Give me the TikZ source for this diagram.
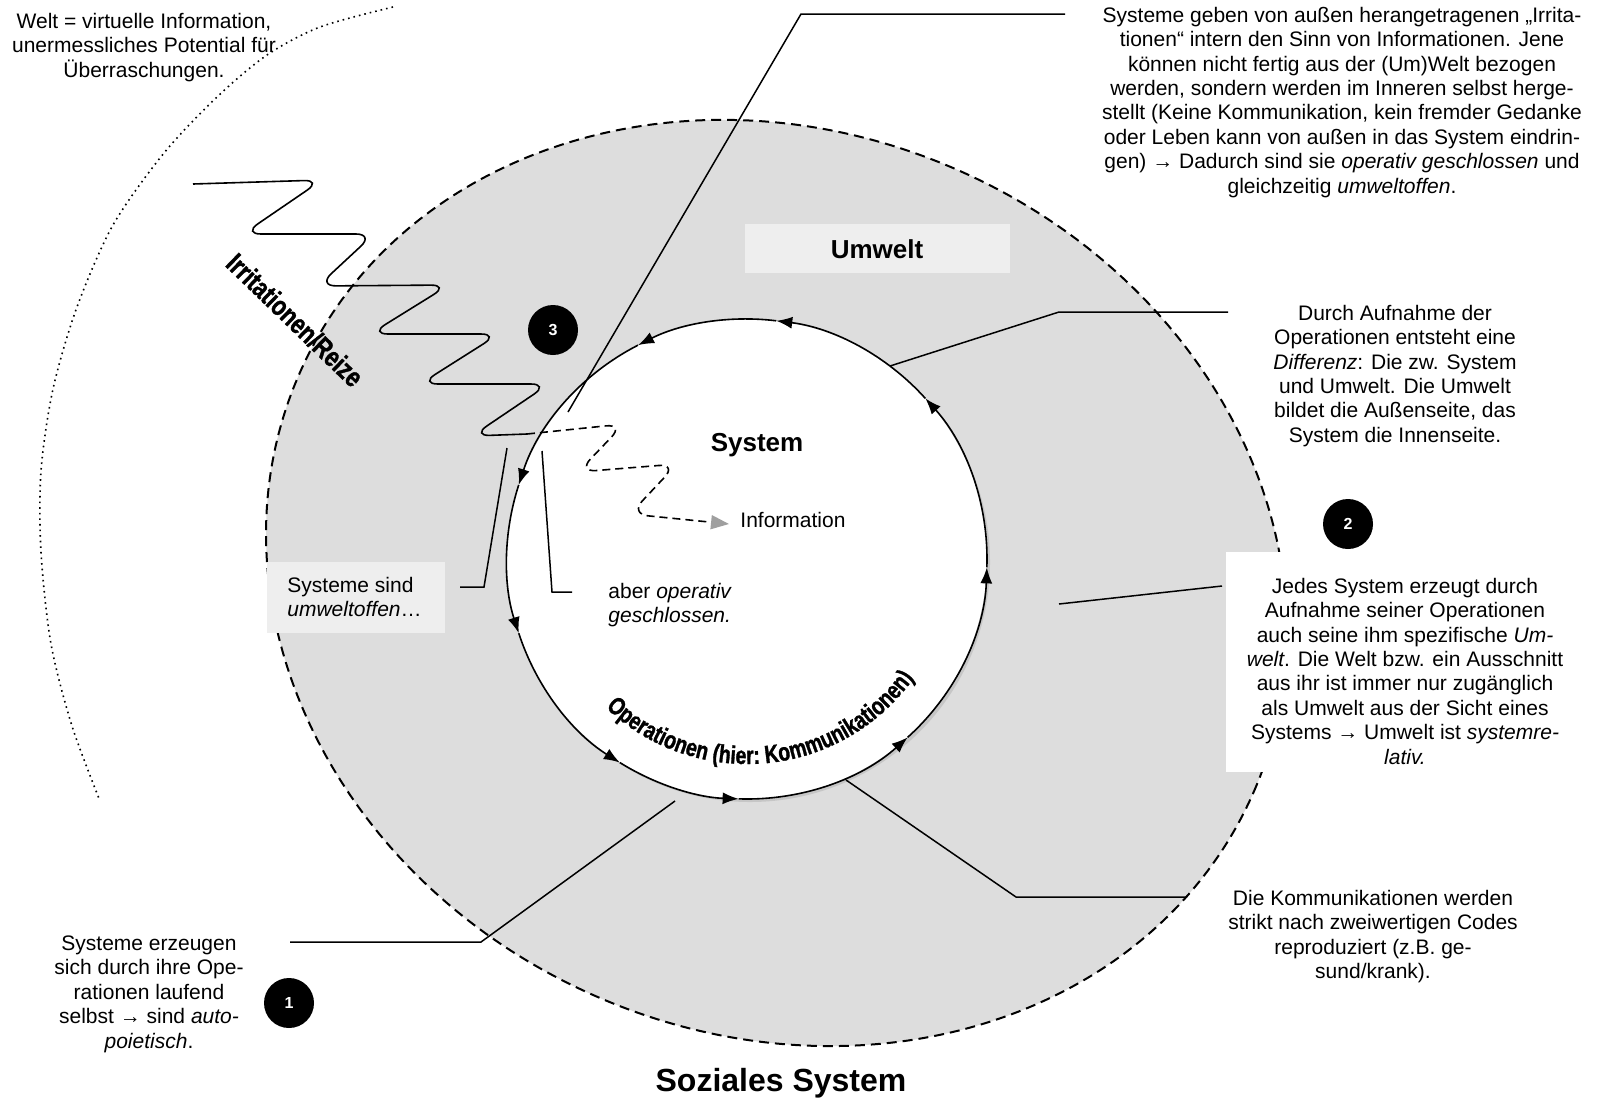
\documentclass[tikz,border=0pt]{standalone}
\usepackage{fontspec}
\setmainfont{Liberation Sans}
\newfontfamily\wordart{Liberation Sans}[FakeStretch=0.78, BoldFeatures={FakeBold=1.2}]
\usetikzlibrary{arrows.meta,decorations.text,calc}
\definecolor{ringgray}{HTML}{DDDDDD}
\definecolor{boxgray}{HTML}{EEEEEE}
\definecolor{shadowgray}{HTML}{C6C6C6}
\begin{document}
\begin{tikzpicture}[x=0.5pt,y=0.5pt,
  txt/.style={font=\fontsize{10.5}{12.2}\selectfont, align=center, anchor=north, inner sep=0pt},
  ltxt/.style={font=\fontsize{10.5}{12.2}\selectfont, align=left, anchor=north west, inner sep=0pt},
  leader/.style={line width=0.75pt},
  ring/.style={line width=0.8pt, -{Latex[length=8pt,width=6pt]}},
  badge/.style={circle, fill=black, text=white, font=\bfseries\fontsize{8}{9}\selectfont, minimum size=25pt, inner sep=0pt},
  shadebox/.style={fill=boxgray, draw=none},
  zig/.style={line width=0.8pt, rounded corners=9pt},
  outline/.style={rotate around={-23.7:(O)}},
]
\useasboundingbox (0,0) rectangle (1604,-1098);

% outer dashed region (Umwelt)
\coordinate (O) at (776.5,-583);
\fill[ringgray, outline] (O) ellipse[x radius=521, y radius=451];
\draw[line width=1pt, dash pattern=on 5pt off 3pt, outline] (O) ellipse[x radius=521, y radius=451];

% Welt dotted arc
\draw[line width=0.8pt, dotted] plot[smooth] coordinates {(393,-7) (320,-27) (267,-55) (217,-97) (164,-153) (113,-225) (77,-307) (53,-389) (41,-471) (41,-552) (51,-644) (72,-726) (100,-801)};

% label boxes
\fill[shadebox] (745,-224) rectangle (1010,-273);
\fill[shadebox] (267,-562) rectangle (445,-633);
\fill[white] (1226,-552) rectangle (1530,-772);

% inner system circle
\coordinate (C) at (747,-559);
\fill[shadowgray] (750,-562) circle[radius=240];
\fill[white] (C) circle[radius=240];

% operation ring
\draw[ring] (C) ++(358:240) arc[start angle=358, end angle=402, radius=240];
\draw[ring] (C) ++(42:240) arc[start angle=42, end angle=83, radius=240];
\draw[ring] (C) ++(83:240) arc[start angle=83, end angle=117, radius=240];
\draw[ring] (C) ++(117:240) arc[start angle=117, end angle=162, radius=240];
\draw[ring] (C) ++(162:240) arc[start angle=162, end angle=198, radius=240];
\draw[ring] (C) ++(198:240) arc[start angle=198, end angle=238, radius=240];
\draw[ring] (C) ++(238:240) arc[start angle=238, end angle=268, radius=240];
\draw[ring] (C) ++(268:240) arc[start angle=268, end angle=312, radius=240];
\draw[ring] (C) ++(312:240) arc[start angle=312, end angle=358, radius=240];

% curved label inside ring
\path[decorate, decoration={text along path, text align=center,
  text={|\wordart\bfseries\fontsize{12.5}{12.5}\selectfont|Operationen (hier: Kommunikationen)}}]
  (C) ++(212:205) arc[start angle=212, end angle=339, radius=205];

% Irritationen zigzag
\coordinate (z0) at (193,-184);
\coordinate (zs) at (527,-434);
\coordinate (zi) at (729,-524);
\draw[zig] (z0) -- (322,-180) -- (243,-234) -- (374,-234) -- (318,-286) -- (449,-285) -- (370,-334) -- (499,-334) -- (420,-384) -- (549,-384) -- (472,-436) -- (zs);
\draw[zig, dash pattern=on 4pt off 2.5pt, -{Triangle[length=9pt,width=7pt,color=gray!75]}] (zs) -- (624,-424) -- (578,-472) -- (677,-464) -- (630,-514) -- (zi);

\node[font=\wordart\bfseries\fontsize{14}{14}\selectfont, rotate=-44, inner sep=0pt] (irr) at (295,-320) {Irritationen/Reize};

% central labels
\node[anchor=base, inner sep=0pt, font=\bfseries\fontsize{13}{13}\selectfont] (umw) at (877,-258) {Umwelt};
\node[anchor=base, inner sep=0pt, font=\bfseries\fontsize{13}{13}\selectfont] (sys) at (757,-451) {System};
\node[anchor=base west, inner sep=0pt, font=\fontsize{10.5}{12.2}\selectfont] (info) at (740,-527) {Information};
\node[anchor=base, inner sep=0pt, font=\bfseries\fontsize{16}{16}\selectfont] (soz) at (781,-1091) {Soziales System};

% badges
\node[badge] (b3) at (553,-330) {3};
\node[badge] (b2) at (1348,-524) {2};
\node[badge] (b1) at (289,-1003) {1};

% text blocks
\node[txt] (welt) at (144,-10.9) {\strut Welt = virtuelle Information,\\unermessliches Potential für\\Überraschungen.};
\node[txt] (tgeben) at (1342,-4.9) {\strut Systeme geben von außen herangetragenen „Irrita-\\tionen“ intern den Sinn von Informationen. Jene\\können nicht fertig aus der (Um)Welt bezogen\\werden, sondern werden im Inneren selbst herge-\\stellt (Keine Kommunikation, kein fremder Gedanke\\oder Leben kann von außen in das System eindrin-\\gen) → Dadurch sind sie \textit{operativ geschlossen} und\\gleichzeitig \textit{umweltoffen}.};
\node[txt] (tdurch) at (1395,-302.9) {\strut Durch Aufnahme der\\Operationen entsteht eine\\\textit{Differenz}: Die zw. System\\und Umwelt. Die Umwelt\\bildet die Außenseite, das\\System die Innenseite.};
\node[txt] (tjedes) at (1405,-575.9) {\strut Jedes System erzeugt durch\\Aufnahme seiner Operationen\\auch seine ihm spezifische \textit{Um-}\\\textit{welt}. Die Welt bzw. ein Ausschnitt\\aus ihr ist immer nur zugänglich\\als Umwelt aus der Sicht eines\\Systems → Umwelt ist \textit{systemre-}\\\textit{lativ.}};
\node[txt] (tkomm) at (1373,-887.9) {\strut Die Kommunikationen werden\\strikt nach zweiwertigen Codes\\reproduziert (z.B. ge-\\sund/krank).};
\node[txt] (terz) at (149,-932.9) {\strut Systeme erzeugen\\sich durch ihre Ope-\\rationen laufend\\selbst → sind \textit{auto-}\\\textit{poietisch}.};
\node[ltxt] (tsind) at (287,-574.9) {\strut Systeme sind\\\textit{umweltoffen}…};
\node[ltxt] (taber) at (608,-580.9) {\strut aber \textit{operativ}\\\textit{geschlossen.}};

% leader lines
\coordinate (l1a) at (1065,-14); \coordinate (l1b) at (801,-14); \coordinate (l1c) at (568,-412);
\draw[leader] (l1a) -- (l1b) -- (l1c);
\coordinate (l2a) at (1228,-312); \coordinate (l2b) at (1059,-312); \coordinate (l2c) at (890,-366);
\draw[leader] (l2a) -- (l2b) -- (l2c);
\coordinate (l3a) at (1222,-586); \coordinate (l3b) at (1059,-604);
\draw[leader] (l3a) -- (l3b);
\coordinate (l4a) at (1187,-897); \coordinate (l4b) at (1016,-897); \coordinate (l4c) at (846,-780);
\draw[leader] (l4a) -- (l4b) -- (l4c);
\coordinate (l5a) at (290,-942); \coordinate (l5b) at (481,-942); \coordinate (l5c) at (675,-801);
\draw[leader] (l5a) -- (l5b) -- (l5c);
\coordinate (l6a) at (460,-587); \coordinate (l6b) at (484,-587); \coordinate (l6c) at (507,-448);
\draw[leader] (l6a) -- (l6b) -- (l6c);
\coordinate (l7a) at (572,-592); \coordinate (l7b) at (552,-592); \coordinate (l7c) at (542,-451);
\draw[leader] (l7a) -- (l7b) -- (l7c);
\end{tikzpicture}
\end{document}
